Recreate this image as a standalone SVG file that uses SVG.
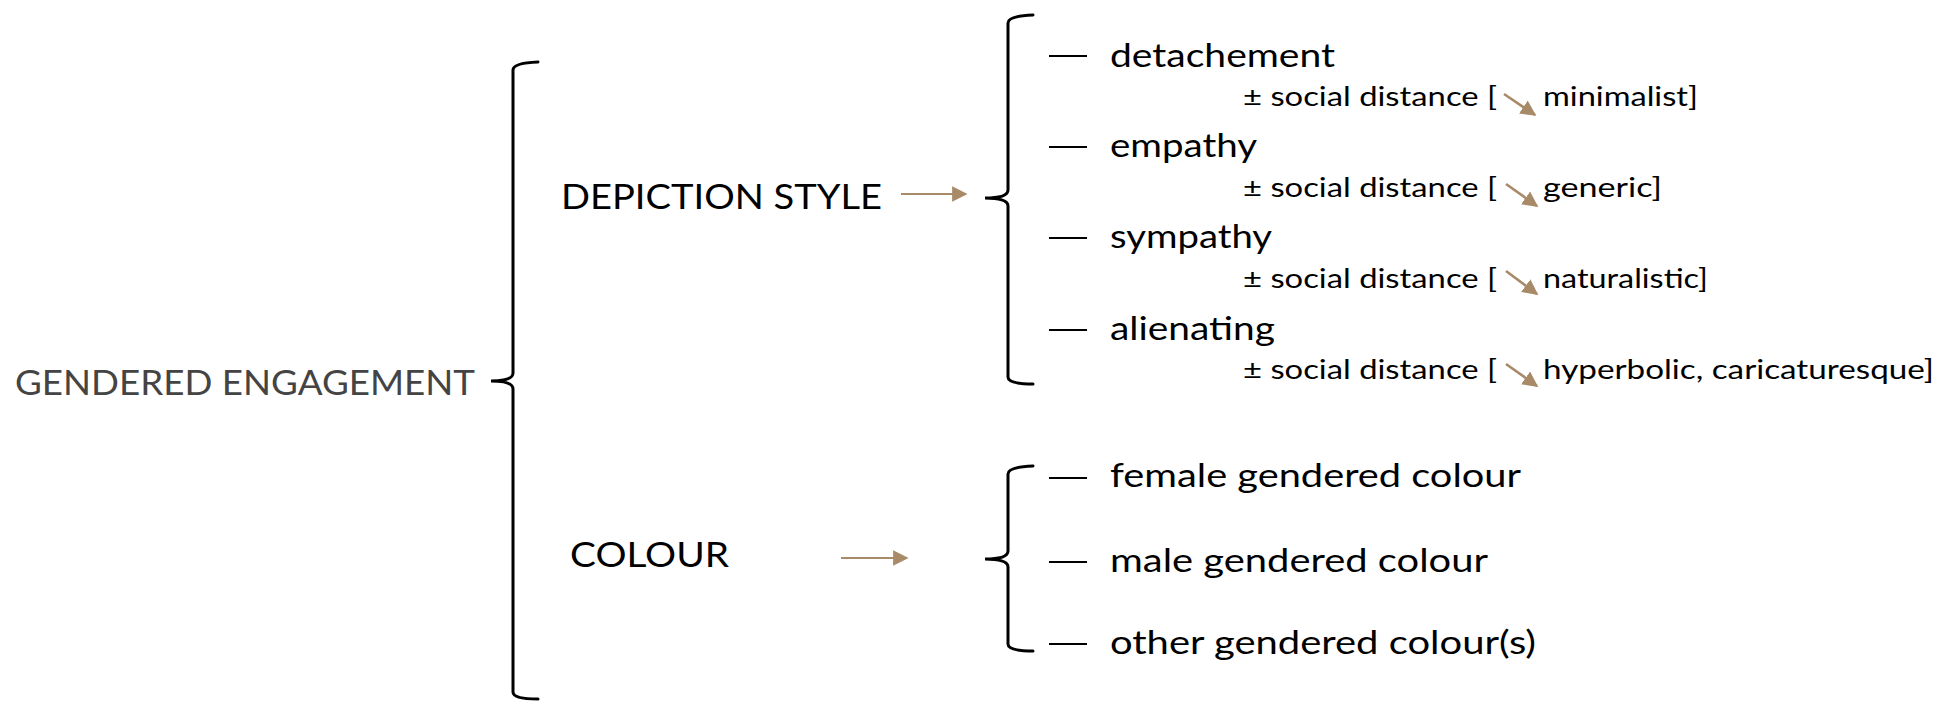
<svg xmlns="http://www.w3.org/2000/svg" width="1946" height="707" viewBox="0 0 1946 707">
<style>
  text { font-family: Lato, "Open Sans", "Liberation Sans", sans-serif; fill: #000; }
  .root { font-size: 34px; fill: #444; }
  .cat { font-size: 35px; }
  .item { font-size: 33px; }
  .sub { font-size: 27px; }
  .brace { fill: none; stroke: #000; stroke-width: 3; stroke-linecap: round; }
  .dash { stroke: #000; stroke-width: 2.2; }
  .arr { stroke: #a88a68; stroke-width: 2.2; fill: none; marker-end: url(#ah); }
  .darr { stroke: #a88a68; stroke-width: 2.6; fill: none; marker-end: url(#ah2); }
</style>
<defs>
  <marker id="ah" viewBox="0 0 10 10" refX="9" refY="5" markerWidth="7" markerHeight="7" orient="auto" markerUnits="strokeWidth">
    <path d="M0,0 L10,5 L0,10 Z" fill="#a88a68"/>
  </marker>
  <marker id="ah2" viewBox="0 0 10 10" refX="9" refY="5" markerWidth="6" markerHeight="6" orient="auto" markerUnits="strokeWidth">
    <path d="M0,0 L10,5 L0,10 Z" fill="#a88a68"/>
  </marker>
</defs>
<rect width="1946" height="707" fill="#fff"/>

<g id="root">
  <text class="root" x="15" y="395" textLength="460" lengthAdjust="spacingAndGlyphs">GENDERED ENGAGEMENT</text>
</g>

<g id="depiction">
  <text class="cat" x="561" y="209" textLength="321" lengthAdjust="spacingAndGlyphs">DEPICTION STYLE</text>
</g>
<g id="colour">
  <text class="cat" x="570" y="567" textLength="159" lengthAdjust="spacingAndGlyphs">COLOUR</text>
</g>

<g id="detachement">
  <line class="dash" x1="1049" y1="56" x2="1087" y2="56"/>
  <text class="item" x="1110" y="67" textLength="225" lengthAdjust="spacingAndGlyphs">detachement</text>
  <text class="sub" x="1243" y="106" textLength="254" lengthAdjust="spacingAndGlyphs">± social distance [</text>
  <line class="darr" x1="1504" y1="94" x2="1535" y2="115"/>
  <text class="sub" x="1543" y="106" textLength="155" lengthAdjust="spacingAndGlyphs">minimalist]</text>
</g>
<g id="empathy">
  <line class="dash" x1="1049" y1="147" x2="1087" y2="147"/>
  <text class="item" x="1110" y="157" textLength="147" lengthAdjust="spacingAndGlyphs">empathy</text>
  <text class="sub" x="1243" y="197" textLength="254" lengthAdjust="spacingAndGlyphs">± social distance [</text>
  <line class="darr" x1="1506" y1="184" x2="1537" y2="206"/>
  <text class="sub" x="1543" y="197" textLength="119" lengthAdjust="spacingAndGlyphs">generic]</text>
</g>
<g id="sympathy">
  <line class="dash" x1="1049" y1="238" x2="1087" y2="238"/>
  <text class="item" x="1110" y="248" textLength="162" lengthAdjust="spacingAndGlyphs">sympathy</text>
  <text class="sub" x="1243" y="288" textLength="254" lengthAdjust="spacingAndGlyphs">± social distance [</text>
  <line class="darr" x1="1506" y1="271" x2="1537" y2="294"/>
  <text class="sub" x="1543" y="288" textLength="165" lengthAdjust="spacingAndGlyphs">naturalistic]</text>
</g>
<g id="alienating">
  <line class="dash" x1="1049" y1="330" x2="1087" y2="330"/>
  <text class="item" x="1110" y="340" textLength="165" lengthAdjust="spacingAndGlyphs">alienating</text>
  <text class="sub" x="1243" y="379" textLength="254" lengthAdjust="spacingAndGlyphs">± social distance [</text>
  <line class="darr" x1="1506" y1="364" x2="1537" y2="386"/>
  <text class="sub" x="1543" y="379" textLength="391" lengthAdjust="spacingAndGlyphs">hyperbolic, caricaturesque]</text>
</g>

<g id="female">
  <line class="dash" x1="1049" y1="478" x2="1087" y2="478"/>
  <text class="item" x="1110" y="487" textLength="411" lengthAdjust="spacingAndGlyphs">female gendered colour</text>
</g>
<g id="male">
  <line class="dash" x1="1049" y1="562" x2="1087" y2="562"/>
  <text class="item" x="1110" y="572" textLength="378" lengthAdjust="spacingAndGlyphs">male gendered colour</text>
</g>
<g id="other">
  <line class="dash" x1="1049" y1="644" x2="1087" y2="644"/>
  <text class="item" x="1110" y="654" textLength="426" lengthAdjust="spacingAndGlyphs">other gendered colour(s)</text>
</g>

<g id="connectors">
  <path class="brace" d="M538 62 Q513 63 513 70 L513 373 Q513 381 491 381 Q513 381 513 389 L513 692 Q513 699 538 699"/>
  <path class="brace" d="M1033 15 Q1008 16 1008 23 L1008 190 Q1008 198 985 198 Q1008 198 1008 206 L1008 377 Q1008 384 1033 384"/>
  <path class="brace" d="M1033 466 Q1008 467 1008 474 L1008 551 Q1008 559 985 559 Q1008 559 1008 567 L1008 644 Q1008 651 1033 651"/>
  <line class="arr" x1="901" y1="194" x2="966" y2="194"/>
  <line class="arr" x1="841" y1="558" x2="907" y2="558"/>
</g>
</svg>
